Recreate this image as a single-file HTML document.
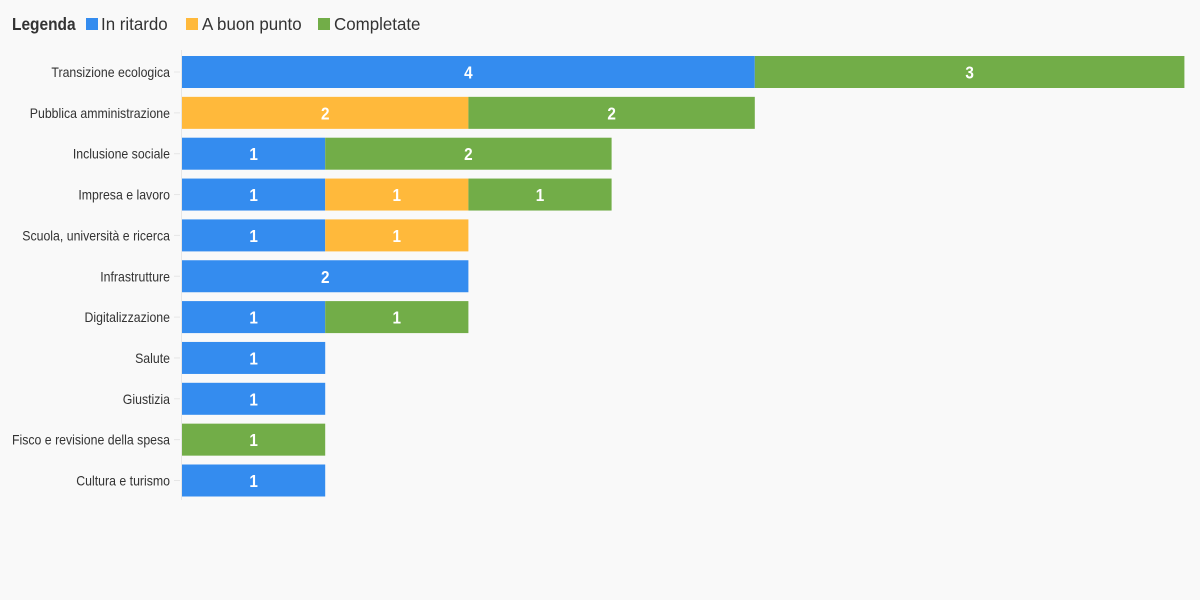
<!DOCTYPE html>
<html><head><meta charset="utf-8"><style>
html,body{margin:0;padding:0;background:#f9f9f9;width:1200px;height:600px;overflow:hidden}
svg{display:block;font-family:"Liberation Sans",sans-serif}
.l{font-size:14px;fill:#333;text-anchor:end}
.v{font-size:18px;fill:#fff;font-weight:bold;text-anchor:middle}
</style></head><body>
<svg width="1200" height="600" xmlns="http://www.w3.org/2000/svg">
<rect width="1200" height="600" fill="#f9f9f9"/>
<text transform="translate(12,30) scale(0.86,1)" font-size="18" font-weight="bold" fill="#333">Legenda</text>
<rect x="86" y="18" width="12" height="12" fill="#348cef"/><text transform="translate(101,30) scale(0.94,1)" font-size="18" fill="#333">In ritardo</text>
<rect x="186" y="18" width="12" height="12" fill="#ffb93b"/><text transform="translate(202,30) scale(0.94,1)" font-size="18" fill="#333">A buon punto</text>
<rect x="318" y="18" width="12" height="12" fill="#72ad48"/><text transform="translate(334,30) scale(0.94,1)" font-size="18" fill="#333">Completate</text>
<line x1="181.5" y1="50" x2="181.5" y2="500" stroke="#e6e6e6"/>
<g id="rows"></g>
</svg>
<script>
var U=143.2,X=182,C={b:"#348cef",o:"#ffb93b",g:"#72ad48"};
var rows=[["Transizione ecologica",[["b",4],["g",3]]],["Pubblica amministrazione",[["o",2],["g",2]]],["Inclusione sociale",[["b",1],["g",2]]],["Impresa e lavoro",[["b",1],["o",1],["g",1]]],["Scuola, università e ricerca",[["b",1],["o",1]]],["Infrastrutture",[["b",2]]],["Digitalizzazione",[["b",1],["g",1]]],["Salute",[["b",1]]],["Giustizia",[["b",1]]],["Fisco e revisione della spesa",[["g",1]]],["Cultura e turismo",[["b",1]]]];
var s="";
rows.forEach(function(r,i){var y=56+i*40.85,cy=y+16;
s+='<line x1="174" y1="'+cy+'" x2="180" y2="'+cy+'" stroke="#e6e6e6"/>';
s+='<text class="l" transform="translate(170,'+(cy+5)+') scale(0.88,1)">'+r[0]+'</text>';
var x=X;r[1].forEach(function(p){var w=p[1]*U;
s+='<rect x="'+x+'" y="'+y+'" width="'+w+'" height="32" fill="'+C[p[0]]+'"/>';
s+='<text class="v" transform="translate('+(x+w/2)+','+(cy+6.5)+') scale(0.85,1)">'+p[1]+'</text>';x+=w;});});
document.getElementById("rows").innerHTML=s;
</script>
</body></html>
